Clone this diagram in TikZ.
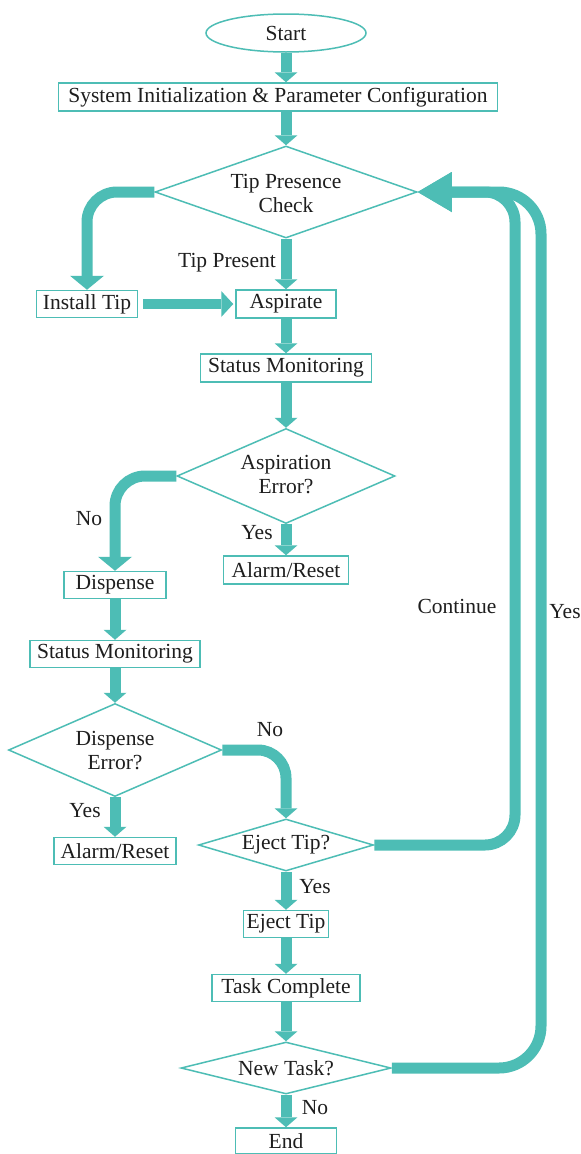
\documentclass[tikz,border=0pt]{standalone}
\usepackage{fontspec}
\setmainfont{Liberation Serif}
\usetikzlibrary{arrows.meta,shapes.geometric}
\definecolor{teal1}{RGB}{77,189,181}
\definecolor{ink}{RGB}{30,30,30}
\begin{document}
\begin{tikzpicture}[x=1pt,y=-1pt,
  every node/.style={font=\fontsize{21.5}{24}\selectfont, text=ink},
  box/.style={draw=teal1, line width=1.5pt, rectangle, inner sep=0pt, minimum height=27pt},
  dia/.style={draw=teal1, line width=1.5pt, diamond, inner sep=0pt},
  txt/.style={align=center, inner sep=0pt},
  flow/.style={draw=teal1, line width=11pt, -{Triangle[width=23pt,length=10pt,line width=0pt]}},
  bentflow/.style={draw=teal1, line width=11pt, rounded corners=30pt, -{Triangle[width=34pt,length=14pt,line width=0pt]}},
  loopline/.style={draw=teal1, line width=11pt, -{Triangle[width=40pt,length=34pt,line width=0pt]}}
]
\useasboundingbox (0,0) rectangle (581,1154);
\fill[white] (0,0) rectangle (581,1154);

% nodes
\node[draw=teal1, line width=1.5pt, ellipse, minimum width=160pt, minimum height=38pt, inner sep=0pt] (start) at (286,33) {Start};
\node[box, minimum width=439pt, minimum height=28pt] (sys) at (278,97) {System Initialization \& Parameter Configuration};
\node[dia, minimum width=262pt, minimum height=92pt] (d1) at (286,192) {};
\node[txt] (t1) at (286,193) {Tip Presence\\Check};
\node[box, minimum width=101pt] (it) at (87,304) {Install Tip};
\node[box, minimum width=100pt, minimum height=28pt] (asp) at (286,304) {Aspirate};
\node[box, minimum width=171pt, minimum height=28pt] (sm1) at (286,368) {Status Monitoring};
\node[dia, minimum width=218pt, minimum height=95pt] (d2) at (286,476) {};
\node[txt] (t2) at (286,475) {Aspiration\\Error?};
\node[box, minimum width=125pt, minimum height=28pt] (al1) at (286,570) {Alarm/Reset};
\node[box, minimum width=102pt] (disp) at (115,585) {Dispense};
\node[box, minimum width=170pt] (sm2) at (115,654) {Status Monitoring};
\node[dia, minimum width=213pt, minimum height=93pt] (d3) at (115,750) {};
\node[txt] (t3) at (115,751) {Dispense\\Error?};
\node[box, minimum width=122pt] (al2) at (115,851) {Alarm/Reset};
\node[dia, minimum width=175pt, minimum height=52pt] (d4) at (286,845) {};
\node[txt] (t4) at (286,845) {Eject Tip?};
\node[box, minimum width=85pt] (ej) at (286,924) {Eject Tip};
\node[box, minimum width=148pt] (tc) at (286,988) {Task Complete};
\node[dia, minimum width=210pt, minimum height=52pt] (d5) at (286,1068) {};
\node[txt] (t5) at (286,1068) {New Task?};
\node[box, minimum width=101pt, minimum height=26pt] (end) at (286,1141) {End};

% labels
\node[txt] (l1) at (227,263) {Tip Present};
\node[txt] (l2) at (89,519) {No};
\node[txt] (l3) at (257,533) {Yes};
\node[txt] (l4) at (457,606) {Continue};
\node[txt] (l5) at (565,612) {Yes};
\node[txt] (l6) at (270,730) {No};
\node[txt] (l7) at (85,811) {Yes};
\node[txt] (l8) at (315,887) {Yes};
\node[txt] (l9) at (315,1108) {No};

% straight connectors
\draw[flow] (start.south) -- (start.south |- sys.north);
\draw[flow] (sys.south -| d1.north) -- (d1.north);
\draw[flow] (d1.south) -- (asp.north);
\draw[flow] (asp.south) -- (sm1.north);
\draw[flow] (sm1.south) -- (d2.north);
\draw[flow] (d2.south) -- (al1.north);
\draw[flow] (disp.south) -- (sm2.north);
\draw[flow] (sm2.south) -- (d3.north);
\draw[flow] (d3.south) -- (al2.north);
\draw[flow] (d4.south) -- (ej.north);
\draw[flow] (ej.south) -- (tc.north);
\draw[flow] (tc.south) -- (d5.north);
\draw[flow] (d5.south) -- (end.north);
\draw[draw=teal1, line width=10pt, -{Triangle[width=26pt,length=12pt,line width=0pt]}] ([xshift=5pt]it.east) -- ([xshift=-2pt]asp.west);

% bent connectors
\draw[bentflow] (d1.west) -| (it.north);
\draw[bentflow] (d2.west) -| (disp.north);
\draw[draw=teal1, line width=11pt, rounded corners=28pt, -{Triangle[width=23pt,length=10pt,line width=0pt]}] (d3.east) -| (d4.north);

% loops back to tip presence check
\coordinate (c1) at (515,192);
\coordinate (c2) at (541,192);
\draw[loopline, rounded corners=42pt] (d5.east) -| (c2) -- (d1.east);
\draw[loopline, rounded corners=30pt] (d4.east) -| (c1) -- (d1.east);
\end{tikzpicture}
\end{document}
